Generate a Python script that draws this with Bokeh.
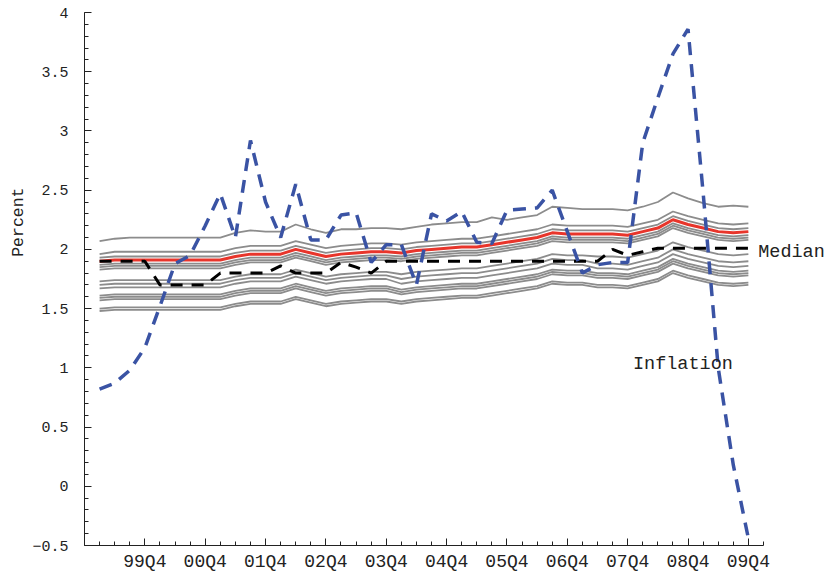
import numpy as np
from bokeh.plotting import figure
from bokeh.models import Range1d, FixedTicker, Label, Title
from bokeh.embed import file_html
from bokeh.resources import INLINE

# Quarter index: 0 = 98Q4, 1 = 99Q1, ... 44 = 09Q4
quarters = list(range(1, 45))
tick_quarters = [4, 8, 12, 16, 20, 24, 28, 32, 36, 40, 44]
tick_labels = ["99Q4", "00Q4", "01Q4", "02Q4", "03Q4", "04Q4",
               "05Q4", "06Q4", "07Q4", "08Q4", "09Q4"]

# Fan of expectation paths (percent)
fan_1 = [2.07, 2.09, 2.10, 2.10, 2.10, 2.10, 2.10, 2.10, 2.10, 2.14, 2.16, 2.15, 2.15, 2.21, 2.17, 2.14, 2.17, 2.17, 2.18, 2.18,
         2.17, 2.19, 2.21, 2.22, 2.23, 2.23, 2.27, 2.25, 2.27, 2.29, 2.36, 2.35, 2.34, 2.34, 2.34, 2.33, 2.36, 2.40, 2.48, 2.43, 2.39, 2.36, 2.37, 2.36]
fan_2 = [1.96, 1.98, 1.98, 1.98, 1.98, 1.98, 1.98, 1.98, 1.98, 2.01, 2.03, 2.03, 2.03, 2.07, 2.04, 2.01, 2.03, 2.04, 2.05, 2.05,
         2.04, 2.06, 2.07, 2.08, 2.09, 2.09, 2.11, 2.13, 2.15, 2.17, 2.21, 2.20, 2.20, 2.20, 2.20, 2.19, 2.22, 2.25, 2.32, 2.28, 2.25, 2.22, 2.21, 2.22]
fan_3 = [1.93, 1.94, 1.94, 1.94, 1.94, 1.94, 1.94, 1.94, 1.94, 1.97, 1.99, 1.99, 1.99, 2.03, 2.00, 1.97, 1.99, 2.00, 2.01, 2.01,
         2.00, 2.02, 2.03, 2.04, 2.05, 2.05, 2.07, 2.09, 2.11, 2.13, 2.17, 2.16, 2.16, 2.16, 2.16, 2.15, 2.18, 2.21, 2.28, 2.24, 2.21, 2.18, 2.17, 2.18]
fan_4 = [1.87, 1.88, 1.88, 1.88, 1.88, 1.88, 1.88, 1.88, 1.88, 1.91, 1.93, 1.93, 1.93, 1.97, 1.94, 1.91, 1.93, 1.94, 1.95, 1.95,
         1.94, 1.96, 1.97, 1.98, 1.99, 1.99, 2.01, 2.03, 2.05, 2.07, 2.11, 2.10, 2.10, 2.10, 2.10, 2.09, 2.12, 2.15, 2.22, 2.18, 2.15, 2.12, 2.11, 2.12]
fan_5 = [1.85, 1.86, 1.86, 1.86, 1.86, 1.86, 1.86, 1.86, 1.86, 1.89, 1.91, 1.91, 1.91, 1.95, 1.92, 1.89, 1.91, 1.92, 1.93, 1.93,
         1.92, 1.94, 1.95, 1.96, 1.97, 1.97, 1.99, 2.01, 2.03, 2.05, 2.09, 2.08, 2.08, 2.08, 2.08, 2.07, 2.10, 2.13, 2.20, 2.16, 2.13, 2.10, 2.09, 2.10]
fan_6 = [1.83, 1.84, 1.84, 1.84, 1.84, 1.84, 1.84, 1.84, 1.84, 1.87, 1.89, 1.89, 1.89, 1.93, 1.90, 1.87, 1.89, 1.90, 1.91, 1.91,
         1.90, 1.92, 1.93, 1.94, 1.95, 1.95, 1.97, 1.99, 2.01, 2.03, 2.07, 2.06, 2.06, 2.06, 2.06, 2.05, 2.08, 2.11, 2.18, 2.14, 2.11, 2.08, 2.07, 2.08]
fan_7 = [1.73, 1.74, 1.74, 1.74, 1.74, 1.74, 1.74, 1.74, 1.74, 1.77, 1.79, 1.79, 1.79, 1.83, 1.80, 1.77, 1.79, 1.80, 1.81, 1.81,
         1.79, 1.81, 1.82, 1.83, 1.84, 1.84, 1.86, 1.88, 1.90, 1.92, 1.96, 1.95, 1.95, 1.94, 1.94, 1.93, 1.96, 1.99, 2.06, 2.02, 1.99, 1.96, 1.95, 1.96]
fan_8 = [1.70, 1.71, 1.71, 1.71, 1.71, 1.71, 1.71, 1.71, 1.71, 1.74, 1.76, 1.76, 1.76, 1.80, 1.77, 1.74, 1.76, 1.77, 1.78, 1.78,
         1.75, 1.77, 1.78, 1.79, 1.80, 1.80, 1.82, 1.84, 1.86, 1.88, 1.92, 1.91, 1.91, 1.88, 1.88, 1.87, 1.90, 1.93, 2.00, 1.96, 1.93, 1.90, 1.89, 1.90]
fan_9 = [1.67, 1.68, 1.68, 1.68, 1.68, 1.68, 1.68, 1.68, 1.68, 1.71, 1.73, 1.73, 1.73, 1.77, 1.74, 1.71, 1.73, 1.74, 1.75, 1.75,
         1.71, 1.73, 1.74, 1.75, 1.76, 1.76, 1.78, 1.80, 1.82, 1.84, 1.88, 1.87, 1.87, 1.84, 1.84, 1.83, 1.86, 1.89, 1.96, 1.92, 1.89, 1.86, 1.85, 1.86]
fan_10 = [1.61, 1.62, 1.62, 1.62, 1.62, 1.62, 1.62, 1.62, 1.62, 1.65, 1.67, 1.67, 1.67, 1.71, 1.68, 1.65, 1.67, 1.68, 1.69, 1.69,
          1.66, 1.68, 1.69, 1.70, 1.71, 1.71, 1.73, 1.75, 1.77, 1.79, 1.83, 1.82, 1.82, 1.80, 1.80, 1.79, 1.82, 1.85, 1.92, 1.88, 1.85, 1.82, 1.81, 1.82]
fan_11 = [1.59, 1.60, 1.60, 1.60, 1.60, 1.60, 1.60, 1.60, 1.60, 1.63, 1.65, 1.65, 1.65, 1.69, 1.66, 1.63, 1.65, 1.66, 1.67, 1.67,
          1.64, 1.66, 1.67, 1.68, 1.69, 1.69, 1.71, 1.73, 1.75, 1.77, 1.81, 1.80, 1.80, 1.78, 1.78, 1.77, 1.80, 1.83, 1.90, 1.86, 1.83, 1.80, 1.79, 1.80]
fan_12 = [1.57, 1.58, 1.58, 1.58, 1.58, 1.58, 1.58, 1.58, 1.58, 1.61, 1.63, 1.63, 1.63, 1.67, 1.64, 1.61, 1.63, 1.64, 1.65, 1.65,
          1.62, 1.64, 1.65, 1.66, 1.67, 1.67, 1.69, 1.71, 1.73, 1.75, 1.79, 1.78, 1.78, 1.76, 1.76, 1.75, 1.78, 1.81, 1.88, 1.84, 1.81, 1.78, 1.77, 1.78]
fan_13 = [1.50, 1.51, 1.51, 1.51, 1.51, 1.51, 1.51, 1.51, 1.51, 1.54, 1.56, 1.56, 1.56, 1.60, 1.57, 1.54, 1.56, 1.57, 1.58, 1.58,
          1.56, 1.58, 1.59, 1.60, 1.61, 1.61, 1.63, 1.65, 1.67, 1.69, 1.73, 1.72, 1.72, 1.70, 1.70, 1.69, 1.72, 1.75, 1.82, 1.78, 1.75, 1.72, 1.71, 1.72]
fan_14 = [1.48, 1.49, 1.49, 1.49, 1.49, 1.49, 1.49, 1.49, 1.49, 1.52, 1.54, 1.54, 1.54, 1.58, 1.55, 1.52, 1.54, 1.55, 1.56, 1.56,
          1.54, 1.56, 1.57, 1.58, 1.59, 1.59, 1.61, 1.63, 1.65, 1.67, 1.71, 1.70, 1.70, 1.68, 1.68, 1.67, 1.70, 1.73, 1.80, 1.76, 1.73, 1.70, 1.69, 1.70]

# Highlighted path
highlight = [1.90, 1.91, 1.91, 1.91, 1.91, 1.91, 1.91, 1.91, 1.91, 1.94, 1.96, 1.96, 1.96, 2.00, 1.97, 1.94, 1.96, 1.97, 1.98, 1.98,
             1.97, 1.99, 2.00, 2.01, 2.02, 2.02, 2.04, 2.06, 2.08, 2.10, 2.14, 2.13, 2.13, 2.13, 2.13, 2.12, 2.15, 2.18, 2.25, 2.21, 2.18, 2.15, 2.14, 2.15]

# Median of the fan
median = [1.90, 1.90, 1.90, 1.90, 1.70, 1.70, 1.70, 1.70, 1.80, 1.80, 1.80, 1.80, 1.86, 1.80, 1.80, 1.80, 1.89, 1.85, 1.80, 1.90,
          1.90, 1.90, 1.90, 1.90, 1.90, 1.90, 1.90, 1.90, 1.90, 1.90, 1.90, 1.90, 1.90, 1.90, 2.00, 1.95, 1.98, 2.01, 2.01, 2.01, 2.01, 2.01, 2.01, 2.01]

# Realised inflation
inflation = [0.82, 0.87, 0.98, 1.17, 1.52, 1.88, 1.95, 2.20, 2.47, 2.10, 2.92, 2.40, 2.10, 2.55, 2.08, 2.08, 2.29, 2.31, 1.89, 2.04,
             2.04, 1.70, 2.30, 2.24, 2.32, 2.06, 2.05, 2.33, 2.34, 2.35, 2.50, 2.15, 1.80, 1.87, 1.89, 1.89, 2.90, 3.28, 3.65, 3.86, 2.48, 1.00, 0.18, -0.44]

fans = [fan_1, fan_2, fan_3, fan_4, fan_5, fan_6, fan_7, fan_8, fan_9, fan_10, fan_11, fan_12, fan_13, fan_14]

y_major = [-0.5, 0, 0.5, 1, 1.5, 2, 2.5, 3, 3.5, 4]
y_labels = ["\u22120.5", "0", "0.5", "1", "1.5", "2", "2.5", "3", "3.5", "4"]

MONO = "Liberation Mono"
INK = "#222222"

# The plotting area runs on past the last quarter so the end labels have room;
# the x axis itself stops at 10Q1.
p = figure(width=828, height=574, x_range=Range1d(0, 49.31), y_range=Range1d(-0.5, 4),
           output_backend="svg", toolbar_location=None,
           min_border_left=84, min_border_right=0, min_border_top=12, min_border_bottom=27)
p.outline_line_color = None
p.xgrid.visible = False
p.ygrid.visible = False
p.background_fill_color = "white"
p.border_fill_color = "white"

for ax in (p.xaxis[0], p.yaxis[0]):
    ax.axis_line_color = INK
    ax.major_tick_line_color = INK
    ax.minor_tick_line_color = INK
    ax.major_tick_in = 7
    ax.major_tick_out = 0
    ax.minor_tick_in = 4
    ax.minor_tick_out = 0
    ax.major_label_text_color = INK
    ax.major_label_text_font = MONO

p.xaxis.bounds = (0, 45)
p.xaxis.ticker = FixedTicker(ticks=tick_quarters, minor_ticks=list(range(0, 46)))
p.xaxis.major_label_overrides = {q: lab for q, lab in zip(tick_quarters, tick_labels)}
p.xaxis.major_label_text_font_size = "18px"
p.xaxis.major_label_standoff = 6

p.yaxis.ticker = FixedTicker(ticks=y_major, minor_ticks=[round(v, 1) for v in np.arange(-0.5, 4.01, 0.1)])
p.yaxis.major_label_overrides = {v: lab for v, lab in zip(y_major, y_labels)}
p.yaxis.major_label_text_font_size = "15px"
p.yaxis.major_label_standoff = 16

# Vertical axis caption, set a little above the middle of the frame
p.add_layout(Title(text="Percent", align="right", offset=175, standoff=4,
                   text_font=MONO, text_font_size="16.5px", text_font_style="normal",
                   text_color=INK), "left")

p.multi_line(xs=[quarters] * len(fans), ys=fans, line_color="#8c8c8c", line_width=1.8)
p.line(quarters, highlight, line_color="#e8352b", line_width=3)
p.line(quarters, median, line_color="black", line_width=3, line_dash="12 9")
p.line(quarters, inflation, line_color="#3a53a4", line_width=3.5, line_dash="13 9")

p.add_layout(Label(x=44.65, y=1.973, text="Median", text_align="left", text_baseline="alphabetic",
                   text_font=MONO, text_font_size="18.5px", text_color=INK))
p.add_layout(Label(x=36.35, y=1.03, text="Inflation", text_align="left", text_baseline="alphabetic",
                   text_font=MONO, text_font_size="18.5px", text_color=INK))

open("out.html", "w").write(file_html(p, INLINE))
